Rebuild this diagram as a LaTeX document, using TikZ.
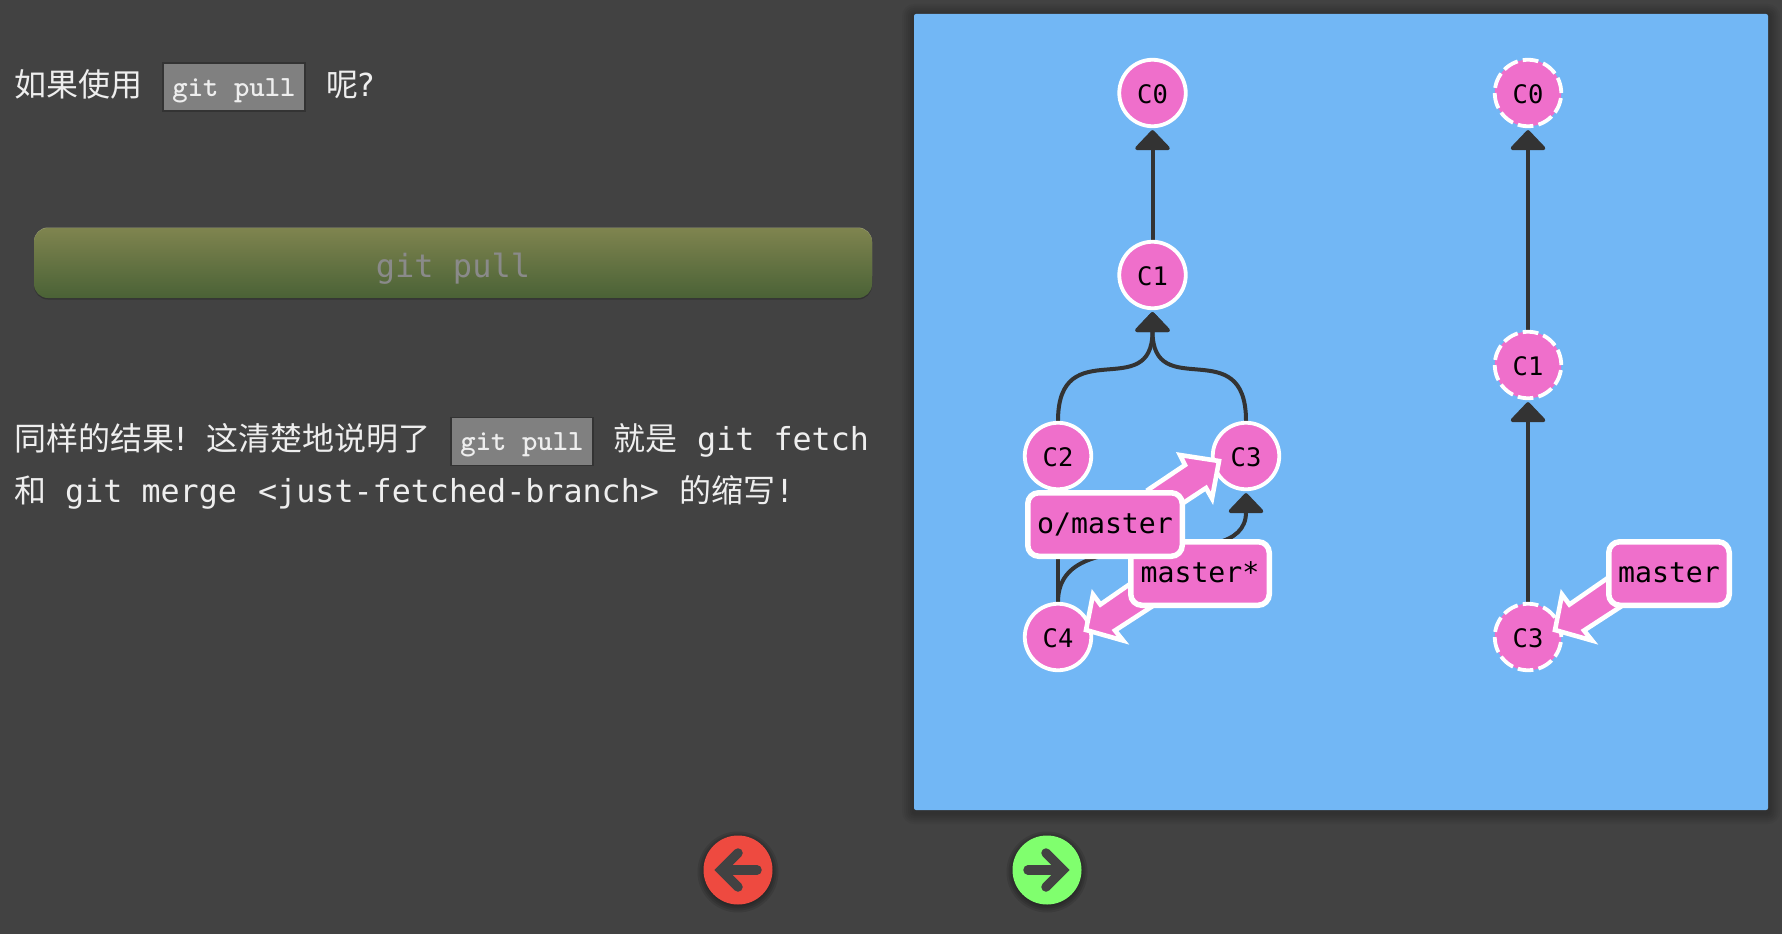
\documentclass[tikz,border=0pt]{standalone}
\usepackage{fontspec}
\setmainfont{DejaVu Sans Mono}
\newfontfamily\cjk{Noto Sans CJK SC}
\usetikzlibrary{arrows.meta,backgrounds}
\definecolor{bgc}{HTML}{424242}
\definecolor{panelc}{HTML}{72B7F5}
\definecolor{pinkc}{HTML}{EF6FCB}
\definecolor{edgec}{HTML}{333333}
\definecolor{textc}{HTML}{EEEEEE}
\definecolor{codec}{HTML}{808080}
\definecolor{btntext}{HTML}{8A8A8A}
\definecolor{btnTop}{HTML}{7F844F}
\definecolor{btnBot}{HTML}{4A6236}
\definecolor{navred}{HTML}{EE4A40}
\definecolor{navgreen}{HTML}{80FF6E}
\tikzset{
  x=1pt,y=-1pt,
  txt/.style={anchor=base west,inner sep=0pt,text=textc,font=\fontsize{31.7}{32}\selectfont},
  cjktxt/.style={txt,font=\fontsize{32}{32}\selectfont\cjk},
  codebox/.style={draw=edgec,line width=1.6pt,fill=codec,minimum width=142pt,minimum height=48pt,inner sep=0pt,text=textc,
    text height=18pt,text depth=0pt,font=\fontsize{29.3}{30}\selectfont\ttfamily\bfseries},
  commit/.style={circle,fill=pinkc,draw=white,line width=3.8pt,minimum size=66.5pt,inner sep=0pt,text=black,
    text height=20pt,text depth=0pt,font=\fontsize{25.5}{26}\selectfont},
  ghost/.style={commit,dash pattern=on 15.7pt off 5.2pt},
  branchlabel/.style={rectangle,rounded corners=11pt,fill=pinkc,draw=white,line width=5.5pt,minimum height=63.5pt,inner sep=0pt,
    text=black,text height=18pt,text depth=0pt,font=\fontsize{28.2}{28}\selectfont},
  branchpoint/.style={fill=pinkc,draw=white,line width=4.6pt,line join=miter,miter limit=10},
  parent/.style={draw=edgec,line width=4pt,shorten >=2pt,
    -{Triangle[width=39pt,length=21pt,line width=4pt,round,fill=edgec]}},
  navbtn/.style={circle,minimum size=69pt,inner sep=0pt},
  navarrow/.style={draw=bgc,line width=9.5pt,line cap=round,line join=miter},
}
\begin{document}
\begin{tikzpicture}
\useasboundingbox (0,0) rectangle (1782,934);

% left column texts
\node[cjktxt] (t1) at (14,96) {如果使用};
\node[codebox] (cb1) at (234,87) {git pull};
\node[cjktxt] (t2) at (326,96) {呢};
\node[txt] (t3) at (356,96) {?};

\node[rectangle,rounded corners=14pt,top color=btnTop,bottom color=btnBot,minimum width=838pt,minimum height=70pt,
      text=btntext,inner sep=0pt,text height=28pt,text depth=0pt,font=\fontsize{32}{32}\selectfont] (btn) at (453,263) {git pull};

\node[cjktxt] (l1a) at (14,450) {同样的结果};
\node[txt] (l1b) at (171,450) {!};
\node[cjktxt] (l1c) at (206,450) {这清楚地说明了};
\node[codebox] (cb2) at (522,441.5) {git pull};
\node[cjktxt] (l1d) at (613,450) {就是};
\node[txt] (l1e) at (697,450) {git fetch};
\node[cjktxt] (l2a) at (14,502) {和};
\node[txt] (l2b) at (65,502) {git merge};
\node[txt] (l2c) at (258,502) {<just-fetched-branch>};
\node[cjktxt] (l2d) at (679,502) {的缩写};
\node[txt] (l2e) at (775,502) {!};

% nav buttons
\node[navbtn,fill=navred] (navl) at (738,870) {};
\node[navbtn,fill=navgreen] (navr) at (1047,870) {};
\begin{scope}[shift={(navl.center)}]
  \draw[navarrow] (19,0) -- (-15,0);
  \draw[navarrow] (0,-17) -- (-17,0) -- (0,17);
\end{scope}
\begin{scope}[shift={(navr.center)}]
  \draw[navarrow] (-19,0) -- (15,0);
  \draw[navarrow] (-1,-17) -- (16,0) -- (-1,17);
\end{scope}

% commits, left tree
\node[commit] (a0) at (1152.5,93) {C0};
\node[commit] (a1) at (1152.5,275) {C1};
\node[commit] (a2) at (1058,456) {C2};
\node[commit] (a3) at (1246,456) {C3};
\node[commit] (a4) at (1058,637) {C4};
% commits, right tree
\node[ghost] (b0) at (1528,93) {C0};
\node[ghost] (b1) at (1528,365) {C1};
\node[ghost] (b3) at (1528,637) {C3};

% page, panel, shadows and connectors beneath the commits
\begin{scope}[on background layer]
  \fill[bgc] (0,0) rectangle (1782,934);
  \foreach \k in {12,10,...,2}{\fill[black,opacity=.04,rounded corners=\k pt] (914-\k,14-\k+2) rectangle (1768+\k,810+\k+2);}
  \fill[panelc,rounded corners=2pt] (914,14) rectangle (1768,810);
  \foreach \k in {6,4,2,0}{
    \fill[black,opacity=.1] (738,872) circle ({34.5+\k});
    \fill[black,opacity=.1] (1047,872) circle ({34.5+\k});
  }
  % button edges
  \fill[edgec,rounded corners=14pt] (34,230) rectangle (872,299.5);
  \fill[btnTop!75!white,rounded corners=14pt] (34,227.5) rectangle (872,290);

  \draw[parent] (a1) -- (a0);
  \draw[parent] (a2.north) .. controls +(0,-90) and +(0,94) .. (a1.south);
  \draw[parent] (a3.north) .. controls +(0,-90) and +(0,94) .. (a1.south);
  \draw[parent] (a4) -- (a2);
  \draw[parent] (a4.north) .. controls +(0,-88) and +(0,90) .. (a3.south);
  \draw[parent] (b1) -- (b0);
  \draw[parent] (b3) -- (b1);
\end{scope}

% branch pointers
\begin{scope}[shift={(1200,573.5)}]
  \draw[branchpoint] (-60.6,4) -- (-99.6,31) -- (-107,21) -- (-114,56.5) -- (-77,67) -- (-85,57) -- (-48,33) -- cycle;
\end{scope}
\begin{scope}[shift={(1669,573.5)}]
  \draw[branchpoint] (-60.6,4) -- (-99.6,31) -- (-107,21) -- (-114,56.5) -- (-77,67) -- (-85,57) -- (-48,33) -- cycle;
\end{scope}
\begin{scope}[shift={(1105,524.5)}]
  \draw[branchpoint] (43.5,-35) -- (80,-59.5) -- (75,-69.5) -- (114,-63.5) -- (107,-26) -- (101,-36.5) -- (60,-9.5) -- cycle;
\end{scope}

\node[branchlabel,minimum width=138.5pt] (lm) at (1200,573.5) {master*};
\node[branchlabel,minimum width=154.5pt,text height=17pt] (lo) at (1105,524.5) {o/master};
\node[branchlabel,minimum width=120.5pt] (lr) at (1669,573.5) {master};
\end{tikzpicture}
\end{document}
